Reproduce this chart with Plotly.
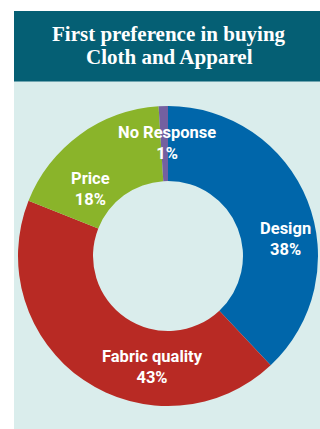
import plotly.graph_objects as go

# Survey shares (%)
categories = ["Design", "Fabric quality", "Price", "No Response"]
shares = [38, 43, 18, 1]
colors = ["#0066AA", "#B82A24", "#8AB42A", "#7460A0"]

# Chart heading, one entry per line
title_lines = ["First preference in buying", "Cloth and Apparel"]

# Label anchor points in pixels (x, y from top) for the in-ring labels
label_px = [(285, 239), (152, 367), (90, 189), (167, 143)]
title_py = [34, 57]

W, H = 320, 429

fig = go.Figure(
    go.Pie(
        labels=categories,
        values=shares,
        hole=0.5,
        sort=False,
        direction="clockwise",
        rotation=0,
        marker=dict(colors=colors, line=dict(width=0)),
        textinfo="none",
        hoverinfo="label+percent",
        showlegend=False,
        domain=dict(x=[18 / W, 318 / W], y=[1 - 406 / H, 1 - 106 / H]),
    )
)

annotations = []
for name, val, (px, py) in zip(categories, shares, label_px):
    annotations.append(
        dict(
            text=f"<b>{name}</b><br><b>{val}%</b>",
            x=px / W,
            y=1 - py / H,
            xref="paper",
            yref="paper",
            showarrow=False,
            xanchor="center",
            yanchor="middle",
            align="center",
            font=dict(family="Roboto, sans-serif", size=16.5, color="white"),
        )
    )

for line, py in zip(title_lines, title_py):
    annotations.append(
        dict(
            text=f"<b>{line}</b>",
            x=169 / W,
            y=1 - py / H,
            xref="paper",
            yref="paper",
            showarrow=False,
            xanchor="center",
            yanchor="middle",
            font=dict(family="Liberation Serif, Times New Roman, serif", size=21, color="white"),
        )
    )

shapes = [
    # light panel behind the chart
    dict(type="rect", xref="paper", yref="paper", x0=14 / W, x1=1, y0=0, y1=1 - 11 / H,
         fillcolor="#DAEDEC", line=dict(width=0), layer="below"),
    # header band
    dict(type="rect", xref="paper", yref="paper", x0=14 / W, x1=1, y0=1 - 81.5 / H, y1=1 - 11 / H,
         fillcolor="#055F74", line=dict(width=0), layer="below"),
]

fig.update_layout(
    width=W,
    height=H,
    margin=dict(l=0, r=0, t=0, b=0),
    paper_bgcolor="white",
    plot_bgcolor="white",
    annotations=annotations,
    shapes=shapes,
)

fig.write_html("out.html")
